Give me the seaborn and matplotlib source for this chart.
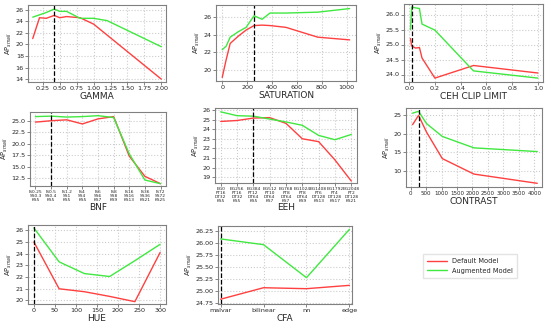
import matplotlib

matplotlib.use("Agg")
import matplotlib.pyplot as plt  # noqa: E402
import pandas as pd  # noqa: E402
import seaborn as sns  # noqa: E402

RED = "#ff4040"
GREEN = "#40e840"

gamma_x = [0.1, 0.2, 0.3, 1 / 2.4, 0.5, 0.6, 0.8, 1.0, 1.2, 2.0]
gamma_default = [21.0, 24.6, 24.5, 25.0, 24.6, 24.8, 24.6, 23.5, 21.6, 14.0]
gamma_aug = [24.7, 25.1, 25.5, 26.1, 25.7, 25.7, 24.5, 24.5, 24.1, 19.6]

sat_x = [0, 32, 64, 128, 192, 256, 320, 384, 512, 768, 1024]
sat_default = [19.2, 21.2, 23.0, 23.8, 24.5, 25.0, 25.05, 25.0, 24.8, 23.7, 23.4]
sat_aug = [22.3, 22.7, 23.7, 24.3, 24.8, 26.1, 25.7, 26.4, 26.4, 26.5, 26.9]

ceh_x = [0.01, 0.02, 0.05, 0.08, 0.1, 0.2, 0.5, 1.0]
ceh_default = [25.2, 24.95, 24.88, 24.9, 24.55, 23.88, 24.3, 24.05]
ceh_aug = [25.5, 26.25, 26.22, 26.2, 25.68, 25.48, 24.12, 23.88]

bnf_labels = ["IS0.25\nSS0.3\nKS5", "IS0.5\nSS0.4\nKS5", "IS1.2\nSS1\nKS5",
              "IS4\nSS4\nKS5", "IS6\nSS6\nKS7", "IS8\nSS8\nKS9",
              "IS16\nSS16\nKS13", "IS36\nSS36\nKS21", "IS72\nSS72\nKS25"]
bnf_default = [24.7, 25.0, 25.2, 24.3, 25.4, 25.9, 17.3, 12.9, 11.3]
bnf_aug = [25.9, 26.0, 25.8, 25.9, 26.1, 25.7, 17.8, 12.1, 11.3]

eeh_labels = ["EG0\nFT16\nDT32\nKS5", "EG256\nFT16\nDT32\nKS5",
              "EG384\nFT12\nDT64\nKS5", "EG512\nFT10\nDT64\nKS7",
              "EG768\nFT8\nDT64\nKS7", "EG1024\nFT8\nDT64\nKS9",
              "EG1408\nFT6\nDT128\nKS13", "EG1792\nFT4\nDT128\nKS17",
              "EG2048\nFT2\nDT128\nKS21"]
eeh_default = [24.8, 24.9, 25.15, 25.2, 24.6, 23.0, 22.7, 20.8, 18.6]
eeh_aug = [25.8, 25.4, 25.35, 25.05, 24.75, 24.4, 23.35, 22.9, 23.45]

contrast_x = [64, 256, 512, 1024, 2048, 4096]
contrast_default = [22.5, 25.0, 20.5, 13.3, 9.1, 6.6]
contrast_aug = [25.6, 26.1, 22.8, 19.3, 16.2, 15.2]

hue_x = [0, 60, 120, 180, 240, 300]
hue_default = [25.0, 21.0, 20.75, 20.35, 19.9, 24.1]
hue_aug = [26.2, 23.3, 22.3, 22.05, 23.4, 24.8]

cfa_labels = ["malvar", "bilinear", "nn", "edge"]
cfa_default = [24.83, 25.07, 25.05, 25.12]
cfa_aug = [26.09, 25.97, 25.28, 26.29]

sns.set_style("whitegrid", {"grid.linestyle": ":", "grid.color": "#cccccc",
                            "axes.edgecolor": "#808080",
                            "xtick.bottom": True, "ytick.left": True})
plt.rcParams["font.family"] = ["DejaVu Sans"]

W, H = 550, 325
fig = plt.figure(figsize=(5.5, 3.25), dpi=100)


def make_ax(left, top, right, bottom):
    return fig.add_axes([left / W, 1 - bottom / H, (right - left) / W, (bottom - top) / H])


def draw(ax, x, default, aug, xlabel, vline, tick_labels=None, label_size=4.6):
    df = pd.DataFrame({"x": list(x) * 2,
                       "val": list(default) + list(aug),
                       "model": ["Default Model"] * len(x) + ["Augmented Model"] * len(x)})
    sns.lineplot(data=df, x="x", y="val", hue="model", ax=ax,
                 palette={"Default Model": RED, "Augmented Model": GREEN},
                 linewidth=1.0, legend=False)
    ax.axvline(vline, color="black", linestyle="--", linewidth=0.9)
    ax.set_xlabel(xlabel, fontsize=6.5, labelpad=0.5)
    ax.set_ylabel("AP$_{small}$", fontsize=4.8, labelpad=1)
    ax.tick_params(axis="both", labelsize=4.6, length=2, width=0.5, pad=1, color="#555555")
    if tick_labels is not None:
        ax.set_xticks(range(len(tick_labels)))
        ax.set_xticklabels(tick_labels, fontsize=label_size, linespacing=0.95)
    for s in ax.spines.values():
        s.set_linewidth(0.8)


ax = make_ax(28, 5, 166, 82)
draw(ax, gamma_x, gamma_default, gamma_aug, "GAMMA", 1 / 2.4)
ax.set_xticks([0.25, 0.5, 0.75, 1.0, 1.25, 1.5, 1.75, 2.0])
ax.set_xlim(0.03, 2.07)
ax.set_yticks([14, 16, 18, 20, 22, 24, 26])
ax.set_ylim(13.5, 26.8)

ax = make_ax(216, 5, 356, 81)
draw(ax, sat_x, sat_default, sat_aug, "SATURATION", 256)
ax.set_xticks([0, 200, 400, 600, 800, 1000])
ax.set_xlim(-50, 1075)
ax.set_yticks([20, 22, 24, 26])
ax.set_ylim(18.8, 27.3)

ax = make_ax(404, 4, 543, 82)
draw(ax, ceh_x, ceh_default, ceh_aug, "CEH CLIP LIMIT", 0.02)
ax.set_xticks([0.0, 0.2, 0.4, 0.6, 0.8, 1.0])
ax.set_xlim(-0.04, 1.04)
ax.set_yticks([24.0, 24.5, 25.0, 25.5, 26.0])
ax.set_ylim(23.75, 26.35)

ax = make_ax(30, 112, 166, 186)
draw(ax, range(len(bnf_labels)), bnf_default, bnf_aug, "BNF", 1, bnf_labels, 3.2)
ax.set_xlim(-0.35, 8.35)
ax.set_yticks([12.5, 15.0, 17.5, 20.0, 22.5, 25.0])
ax.set_ylim(10.8, 26.9)

ax = make_ax(215, 108, 357, 183)
draw(ax, range(len(eeh_labels)), eeh_default, eeh_aug, "EEH", 2, eeh_labels, 3.2)
ax.set_xlim(-0.35, 8.35)
ax.set_yticks([19, 20, 21, 22, 23, 24, 25, 26])
ax.set_ylim(18.4, 26.2)

ax = make_ax(406, 108, 542, 187)
draw(ax, contrast_x, contrast_default, contrast_aug, "CONTRAST", 256)
ax.set_xticks(range(0, 4001, 500))
ax.tick_params(axis="x", labelsize=4.0)
ax.set_xlim(-150, 4250)
ax.set_yticks([10, 15, 20, 25])
ax.set_ylim(5.6, 27.0)

ax = make_ax(28, 225, 166, 304)
draw(ax, hue_x, hue_default, hue_aug, "HUE", 0)
ax.set_xticks([0, 50, 100, 150, 200, 250, 300])
ax.set_xlim(-14, 314)
ax.set_yticks([20, 21, 22, 23, 24, 25, 26])
ax.set_ylim(19.7, 26.45)

ax = make_ax(218, 226, 352, 304)
draw(ax, range(len(cfa_labels)), cfa_default, cfa_aug, "CFA", 0, cfa_labels)
ax.set_xlim(-0.06, 3.06)
ax.set_yticks([24.75, 25.0, 25.25, 25.5, 25.75, 26.0, 26.25])
ax.set_ylim(24.73, 26.36)

# legend in the empty ninth slot
handles = [plt.Line2D([], [], color=RED, linewidth=1.0),
           plt.Line2D([], [], color=GREEN, linewidth=1.0)]
fig.legend(handles, ["Default Model", "Augmented Model"],
           loc="center", bbox_to_anchor=(470 / W, 1 - 266 / H),
           fontsize=4.8, frameon=True, edgecolor="#dddddd", fancybox=False,
           handlelength=3, borderpad=0.6)

fig.savefig("out.png", dpi=100)
